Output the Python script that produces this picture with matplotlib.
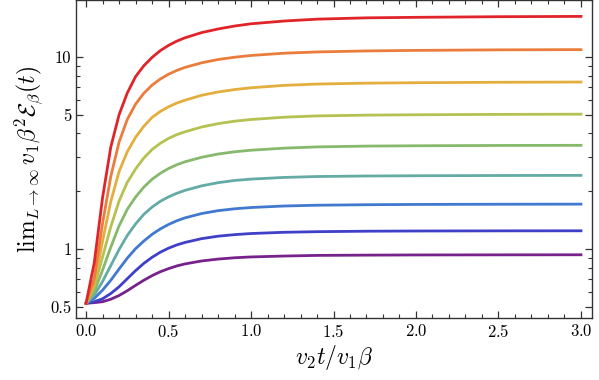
import numpy as np
import matplotlib
matplotlib.use("Agg")
import matplotlib.pyplot as plt
from matplotlib.ticker import FixedLocator, FixedFormatter, MultipleLocator, LogLocator, NullFormatter

plt.rcParams['mathtext.fontset'] = 'cm'
plt.rcParams['font.family'] = 'serif'
plt.rcParams['font.serif'] = ['cmr10']
plt.rcParams['axes.formatter.use_mathtext'] = True

# time axis, v2 t / v1 beta
t = [0.0, 0.05, 0.1, 0.15, 0.2, 0.25, 0.3, 0.35, 0.4, 0.45, 0.5, 0.55, 0.6,
     0.7, 0.8, 0.9, 1.0, 1.2, 1.4, 1.7, 2.0, 2.5, 3.0]

# curves, bottom (purple) to top (red)
purple = [0.522, 0.526, 0.532, 0.548, 0.573, 0.607, 0.647, 0.688, 0.727, 0.762, 0.791, 0.817,
          0.837, 0.867, 0.887, 0.901, 0.910, 0.920, 0.927, 0.930, 0.932, 0.933, 0.934]
indigo = [0.522, 0.532, 0.551, 0.587, 0.636, 0.701, 0.772, 0.842, 0.906, 0.963, 1.011, 1.051,
          1.083, 1.133, 1.167, 1.189, 1.205, 1.223, 1.232, 1.239, 1.242, 1.244, 1.245]
blue = [0.522, 0.554, 0.611, 0.688, 0.787, 0.897, 1.004, 1.101, 1.193, 1.273, 1.343, 1.404,
        1.454, 1.531, 1.585, 1.621, 1.646, 1.676, 1.692, 1.702, 1.708, 1.712, 1.714]
teal = [0.522, 0.576, 0.678, 0.821, 0.994, 1.177, 1.351, 1.516, 1.654, 1.773, 1.870, 1.952,
        2.022, 2.134, 2.217, 2.276, 2.314, 2.361, 2.387, 2.402, 2.409, 2.416, 2.420]
green = [0.522, 0.601, 0.777, 1.023, 1.320, 1.611, 1.865, 2.101, 2.309, 2.481, 2.627, 2.749,
         2.849, 3.005, 3.126, 3.211, 3.272, 3.354, 3.405, 3.438, 3.451, 3.464, 3.470]
yellowgreen = [0.522, 0.637, 0.910, 1.307, 1.776, 2.228, 2.611, 2.978, 3.298, 3.554, 3.770, 3.945,
               4.082, 4.320, 4.500, 4.634, 4.729, 4.860, 4.938, 4.983, 5.005, 5.028, 5.040]
yellow = [0.522, 0.663, 1.097, 1.769, 2.531, 3.213, 3.818, 4.360, 4.847, 5.208, 5.505, 5.759,
          5.961, 6.320, 6.577, 6.771, 6.917, 7.119, 7.234, 7.311, 7.350, 7.390, 7.410]
orange = [0.522, 0.707, 1.360, 2.388, 3.601, 4.734, 5.684, 6.477, 7.141, 7.682, 8.138, 8.518,
          8.834, 9.331, 9.707, 9.977, 10.19, 10.47, 10.63, 10.76, 10.83, 10.90, 10.93]
red = [0.522, 0.85, 1.85, 3.40, 5.00, 6.50, 7.90, 9.00, 9.95, 10.80, 11.50, 12.10,
       12.60, 13.40, 14.00, 14.50, 14.90, 15.40, 15.75, 16.00, 16.10, 16.22, 16.28]

curves = [purple, indigo, blue, teal, green, yellowgreen, yellow, orange, red]
colors = ['#76228a', '#3f3fc8', '#4079cf', '#64aaa5', '#86b96c',
          '#b5c150', '#e3ae3e', '#ea7d3c', '#e0242a']

y_ticks = [0.5, 1, 5, 10]
y_tick_labels = ['0.5', '1', '5', '10']

fig = plt.figure(figsize=(5.99, 3.80), dpi=100)
ax = fig.add_axes([0.1274, 0.1632, 0.8601, 0.8355])

for y, c in zip(curves, colors):
    ax.plot(t, y, color=c, lw=2.0, solid_joinstyle='round')

ax.set_yscale('log')
ax.set_xlim(-0.059, 3.064)
ax.set_ylim(0.4377, 19.7)

ax.yaxis.set_major_locator(FixedLocator(y_ticks))
ax.yaxis.set_major_formatter(FixedFormatter(y_tick_labels))
ax.yaxis.set_minor_locator(LogLocator(base=10, subs=np.arange(2, 10)))
ax.yaxis.set_minor_formatter(NullFormatter())
ax.xaxis.set_major_locator(MultipleLocator(0.5))
ax.xaxis.set_minor_locator(MultipleLocator(0.1))

for side in ax.spines.values():
    side.set_color('#333333')
    side.set_linewidth(1.0)
ax.tick_params(which='both', direction='in', top=True, right=True, colors='#333333',
               labelcolor='black', labelsize=12)
ax.tick_params(which='major', length=5, width=0.9)
ax.tick_params(which='minor', length=3, width=0.8)

ax.set_xlabel(r'$v_2 t/v_1 \beta$', fontsize=17, labelpad=2)
ax.set_ylabel(r'$\mathrm{lim}_{L\to\infty}\, v_1 \beta^2 \mathcal{E}_\beta(t)$', fontsize=17, labelpad=4)

fig.savefig('out.png', dpi=100)
